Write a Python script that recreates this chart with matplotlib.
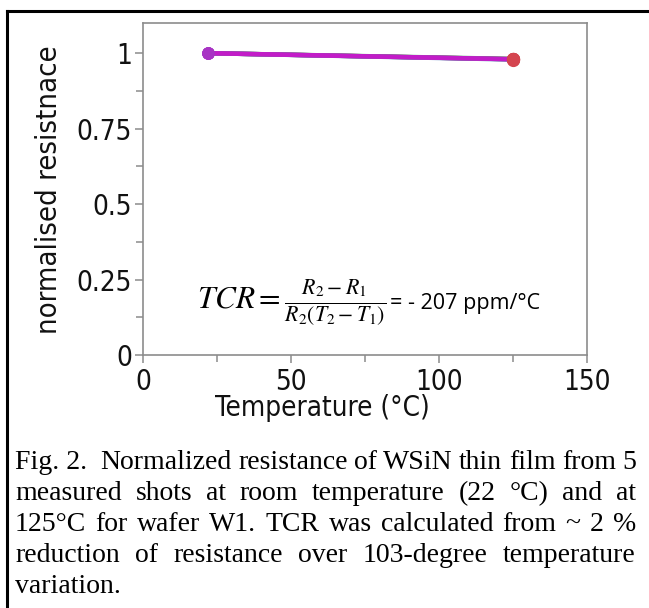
import matplotlib
matplotlib.use("Agg")
import matplotlib.pyplot as plt
from matplotlib import font_manager
from matplotlib.font_manager import FontProperties
from matplotlib.lines import Line2D
from matplotlib.ticker import MultipleLocator

# ---- data ----
temperature = [22, 125]
shot_values = [
    [1.0, 0.981],
    [1.0, 0.980],
    [1.0, 0.979],
    [1.0, 0.980],
    [1.0, 0.980],
]
shot_colors = ["#4aa86a", "#7a9a40", "#5a7fc0", "#9a50b0", "#c21cc8"]
x_ticks = [0, 50, 100, 150]
y_ticks = [0, 0.25, 0.5, 0.75, 1]
y_tick_labels = ["0", "0.25", "0.5", "0.75", "1"]
x_label = "Temperature (°C)"
y_label = "normalised resistnace"
caption_lines = [
    "Fig. 2.  Normalized resistance of WSiN thin film from 5",
    "measured shots at room temperature (22 °C) and at",
    "125°C for wafer W1. TCR was calculated from ~ 2 %",
    "reduction of resistance over 103-degree temperature",
    "variation.",
]

W, H = 649, 608
DPI = 100

ttf = font_manager.fontManager.ttflist
names = {f.name for f in ttf}
if "Liberation Sans Narrow" in names:
    def axis_fp(size):
        return FontProperties(family="Liberation Sans Narrow", size=size)
elif any(f.name == "DejaVu Sans" and f.stretch in ("condensed", 300) for f in ttf):
    def axis_fp(size):
        return FontProperties(family="DejaVu Sans", stretch="condensed", size=size)
else:
    def axis_fp(size):
        return FontProperties(family="Liberation Sans", size=size * 0.92)

serif_font = ["Liberation Serif", "DejaVu Serif"]
sans_font = ["Open Sans", "Lato", "DejaVu Sans"]

fig = plt.figure(figsize=(W / DPI, H / DPI), dpi=DPI)
fig.patch.set_facecolor("white")

def fx(px):
    return px / W

def fy(py):
    return 1 - py / H

ax_l, ax_r, ax_t, ax_b = 143, 587, 23, 355
ax = fig.add_axes([fx(ax_l), fy(ax_b), (ax_r - ax_l) / W, (ax_b - ax_t) / H])
ax.set_xlim(0, 150)
ax.set_ylim(0, 1.1)

for vals, col in zip(shot_values, shot_colors):
    ax.plot(temperature, vals, color=col, lw=3.2, solid_capstyle="round", zorder=3)
for vals in shot_values:
    ax.plot(temperature[0], vals[0], "o", color="#a834c4", ms=8, zorder=4)
    ax.plot(temperature[1], vals[1], "o", color="#d4454f", ms=8.5, zorder=4)

gray = "#8c8c8c"
for s in ax.spines.values():
    s.set_color(gray)
    s.set_linewidth(1.2)

ax.set_xticks(x_ticks)
ax.set_yticks(y_ticks)
ax.set_yticklabels(y_tick_labels)
ax.xaxis.set_minor_locator(MultipleLocator(25))
ax.yaxis.set_minor_locator(MultipleLocator(0.125))
ax.tick_params(which="both", direction="out", color=gray, width=1.1)
ax.tick_params(which="major", length=6, pad=2, labelcolor="#111111")
ax.tick_params(axis="x", which="major", pad=3)
ax.tick_params(which="minor", length=5)
for lab in ax.get_xticklabels() + ax.get_yticklabels():
    lab.set_fontproperties(axis_fp(20))

fig.text(fx(322), fy(408), x_label, ha="center", va="center",
         fontproperties=axis_fp(20), color="#111111")
fig.text(fx(49), fy(190), y_label, ha="center", va="center", rotation=90,
         fontproperties=axis_fp(21), color="#111111")

# formula
plt.rcParams["mathtext.fontset"] = "stix"
t1 = fig.text(fx(197), fy(303), r"$TCR=\frac{R_2-R_1}{R_2(T_2-T_1)}$",
              ha="left", va="center", fontsize=22.5, color="black")
fig.canvas.draw()
r = fig.canvas.get_renderer()
bb = t1.get_window_extent(r)
fig.text(bb.x1 / W + 0.006, fy(303), "= - 207 ppm/°C", ha="left", va="center",
         fontsize=15.5, family=sans_font, color="black")

# border
fig.add_artist(Line2D([fx(7), fx(7)], [fy(11), 0], transform=fig.transFigure,
                      color="black", lw=2.2))
fig.add_artist(Line2D([fx(7), 1.0], [fy(11), fy(11)], transform=fig.transFigure,
                      color="black", lw=2.2))

# caption, justified
left_px, right_px = 15, 636
baselines = [469, 500, 531, 562, 593]
cap_size = 20
for i, (line, base) in enumerate(zip(caption_lines, baselines)):
    if i == len(caption_lines) - 1:
        fig.text(fx(left_px), fy(base), line, ha="left", va="baseline",
                 fontsize=cap_size, family=serif_font, color="black")
        continue
    words = [w for w in line.split(" ") if w != ""]
    if words[0] == "Fig." and words[1] == "2.":
        words = ["Fig. 2. "] + words[2:]
    texts = []
    for w in words:
        t = fig.text(0, fy(base), w, ha="left", va="baseline",
                     fontsize=cap_size, family=serif_font, color="black")
        texts.append(t)
    fig.canvas.draw()
    widths = [t.get_window_extent(r).width for t in texts]
    gap = (right_px - left_px - sum(widths)) / (len(words) - 1)
    x = left_px
    for t, wdt in zip(texts, widths):
        t.set_x(fx(x))
        x += wdt + gap

fig.savefig("out.png", dpi=DPI, facecolor="white")
